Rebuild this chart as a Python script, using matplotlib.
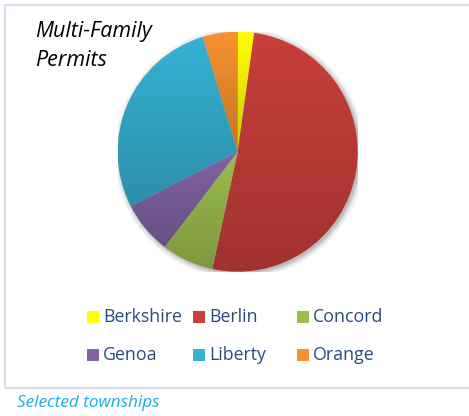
import matplotlib
matplotlib.use("Agg")
import matplotlib.pyplot as plt
import numpy as np
from matplotlib.patches import Rectangle, Circle
from matplotlib.colors import to_rgb

# Share of multi-family permits by township (percent)
townships = ["Berkshire", "Berlin", "Concord", "Genoa", "Liberty", "Orange"]
shares = [2.2, 51.2, 7.0, 7.1, 27.8, 4.7]
colors = ["#FFFF00", "#C93F3B", "#9CBD4F", "#8163A3", "#36B2D4", "#F7922F"]

W, H = 469, 416
fig = plt.figure(figsize=(W / 100, H / 100), dpi=100)

# light chart-area frame (right edge runs off the image)
fig.add_artist(Rectangle((4.5 / W, 1 - 387.5 / H), (W + 10) / W, 383 / H,
                         transform=fig.transFigure, fill=False,
                         edgecolor="#D5DFEE", linewidth=1.5))

cx, cy, r = 237.7, 151.7, 120
ax = fig.add_axes([(cx - r) / W, (H - cy - r) / H, 2 * r / W, 2 * r / H])
ax.set_xlim(-1, 1)
ax.set_ylim(-1, 1)
ax.set_aspect("equal")
ax.axis("off")

# soft shadow behind the pie
for k, a in zip(np.linspace(1.05, 1.0, 6), np.linspace(0.02, 0.08, 6)):
    ax.add_patch(Circle((0.015, -0.015), k, color="black", alpha=a, lw=0, zorder=0))

wedges, _ = ax.pie(shares, colors=colors, startangle=90, counterclock=False,
                   radius=1, wedgeprops=dict(linewidth=0))

# vertical gradient fill per wedge (light top, darker bottom)
grad = np.linspace(0, 1, 256)[:, None]
for w, c in zip(wedges, colors):
    top = np.array(to_rgb(c))
    bot = top * 0.8
    img = top[None, None, :] * (1 - grad[..., None]) + bot[None, None, :] * grad[..., None]
    img = np.repeat(img, 2, axis=1)
    bb = w.get_path().get_extents()
    im = ax.imshow(img, extent=(bb.x0, bb.x1, bb.y0, bb.y1), origin="upper",
                   zorder=2, interpolation="bilinear")
    im.set_clip_path(w)
    w.set_facecolor("none")
ax.set_xlim(-1, 1)
ax.set_ylim(-1, 1)

fig.text(35 / W, 1 - 46 / H, "Multi-Family\nPermits", fontsize=15.5, style="italic",
         family="Open Sans", color="black", va="center", ha="left", linespacing=1.45)

# legend laid out like the source: 3 equal columns, 2 rows
sq_x = [87, 193, 297]
row_y = [317, 355]
for i, (name, c) in enumerate(zip(townships, colors)):
    col, row = i % 3, i // 3
    x, y = sq_x[col], row_y[row]
    fig.add_artist(Rectangle((x / W, 1 - (y + 6) / H), 12 / W, 12 / H,
                             transform=fig.transFigure, facecolor=c,
                             edgecolor="none"))
    fig.text((x + 16) / W, 1 - y / H, name, fontsize=12.8, family="Open Sans",
             color="#2A4B7C", va="center", ha="left")

fig.text(17 / W, 1 - 403 / H, "Selected townships", fontsize=12.3, style="italic",
         family="Open Sans", color="#1AAEE6", va="center", ha="left")

fig.savefig("out.png", dpi=100)
